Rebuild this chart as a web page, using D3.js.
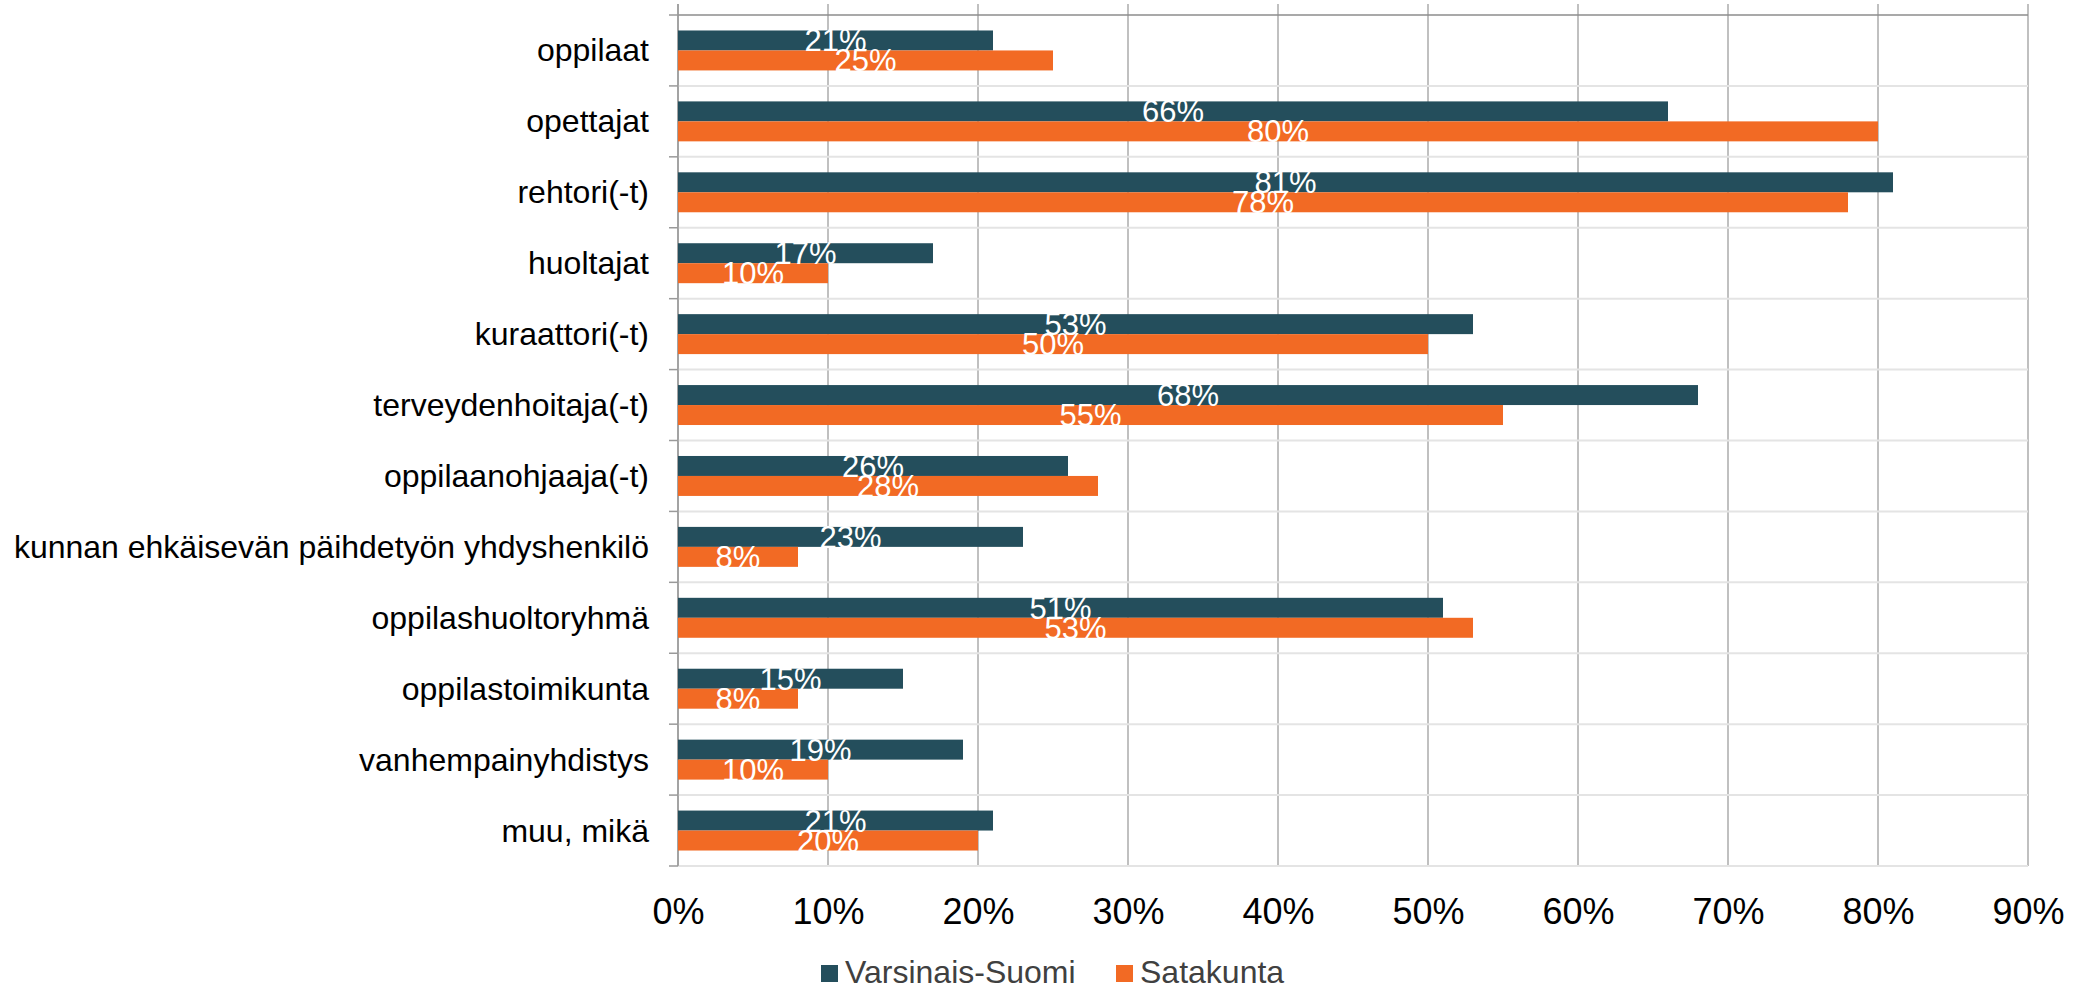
<!DOCTYPE html>
<html>
<head>
<meta charset="utf-8">
<script src="https://cdn.jsdelivr.net/npm/d3@7"></script>
<style>
  body { margin: 0; background: #fff; }
  text { font-family: "Liberation Sans", Arial, sans-serif; }
</style>
</head>
<body>
<div id="vis"></div>
<script>
// data
const categories = [
  'oppilaat', 'opettajat', 'rehtori(-t)', 'huoltajat', 'kuraattori(-t)',
  'terveydenhoitaja(-t)', 'oppilaanohjaaja(-t)', 'kunnan ehkäisevän päihdetyön yhdyshenkilö',
  'oppilashuoltoryhmä', 'oppilastoimikunta', 'vanhempainyhdistys', 'muu, mikä'
];
const seriesNames = ['Varsinais-Suomi', 'Satakunta'];
const varsinaisSuomi = [21, 66, 81, 17, 53, 68, 26, 23, 51, 15, 19, 21];
const satakunta = [25, 80, 78, 10, 50, 55, 28, 8, 53, 8, 10, 20];
const tickValues = [0, 10, 20, 30, 40, 50, 60, 70, 80, 90];
const colors = ['#244e5c', '#f26a24'];

const W = 2092, H = 989;
const margin = {top: 15, right: 64, bottom: 123, left: 678};

const svg = d3.select('#vis').append('svg')
  .attr('width', W)
  .attr('height', H);

const xScale = d3.scaleLinear().domain([0, 90]).range([margin.left, W - margin.right]);
const yScale = d3.scaleBand().domain(categories).range([margin.top, H - margin.bottom]);
const subScale = d3.scaleBand().domain(seriesNames).range([0, yScale.bandwidth()])
  .paddingInner(0).paddingOuter(0.775);

const plotTop = margin.top, plotBottom = H - margin.bottom;

// vertical gridlines (with little ticks above the top line)
svg.append('g').selectAll('line')
  .data(tickValues)
  .join('line')
  .attr('x1', d => xScale(d)).attr('x2', d => xScale(d))
  .attr('y1', plotTop - 11).attr('y2', plotBottom)
  .attr('stroke', '#ababab')
  .attr('stroke-width', 1.5);

// horizontal band lines
const bounds = categories.map(c => yScale(c)).concat([plotBottom]);
svg.append('g').selectAll('line')
  .data(bounds.slice(1))
  .join('line')
  .attr('x1', xScale(0)).attr('x2', xScale(90))
  .attr('y1', d => d).attr('y2', d => d)
  .attr('stroke', '#e4e4e4')
  .attr('stroke-width', 2);

// top line
svg.append('line')
  .attr('x1', xScale(0)).attr('x2', xScale(90))
  .attr('y1', plotTop).attr('y2', plotTop)
  .attr('stroke', '#8c8c8c')
  .attr('stroke-width', 1.5);

// left axis line + ticks at band boundaries
svg.append('line')
  .attr('x1', xScale(0)).attr('x2', xScale(0))
  .attr('y1', plotTop - 11).attr('y2', plotBottom)
  .attr('stroke', '#9a9a9a')
  .attr('stroke-width', 1.5);
svg.append('g').selectAll('line')
  .data(bounds)
  .join('line')
  .attr('x1', xScale(0) - 9).attr('x2', xScale(0))
  .attr('y1', d => d).attr('y2', d => d)
  .attr('stroke', '#9a9a9a')
  .attr('stroke-width', 1.5);

// bars
const rows = categories.map((c, i) => ({cat: c, values: [varsinaisSuomi[i], satakunta[i]]}));

const groups = svg.append('g').selectAll('g')
  .data(rows)
  .join('g')
  .attr('transform', d => `translate(0,${yScale(d.cat)})`);

groups.selectAll('rect')
  .data(d => d.values.map((v, j) => ({name: seriesNames[j], v: v, j: j})))
  .join('rect')
  .attr('x', xScale(0))
  .attr('y', d => subScale(d.name))
  .attr('width', d => xScale(d.v) - xScale(0))
  .attr('height', subScale.bandwidth())
  .attr('fill', d => colors[d.j]);

// value labels, white and centred; the parts outside the bars vanish on white like in the original
groups.selectAll('text')
  .data(d => d.values.map((v, j) => ({name: seriesNames[j], v: v, j: j})))
  .join('text')
  .attr('x', d => (xScale(d.v) + xScale(0)) / 2)
  .attr('y', d => subScale(d.name) + subScale.bandwidth() / 2 + 11)
  .attr('text-anchor', 'middle')
  .attr('fill', '#fff')
  .style('font-size', '31px')
  .text(d => d.v + '%');

// category labels
svg.append('g').selectAll('text')
  .data(categories)
  .join('text')
  .attr('x', xScale(0) - 29)
  .attr('y', d => yScale(d) + yScale.bandwidth() / 2 + 11)
  .attr('text-anchor', 'end')
  .attr('fill', '#000')
  .style('font-size', '32px')
  .text(d => d);

// x axis labels
const xAxis = d3.axisBottom(xScale)
  .tickValues(tickValues)
  .tickSize(0)
  .tickPadding(32)
  .tickFormat(d => d + '%');

const gx = svg.append('g')
  .attr('transform', `translate(0,${plotBottom})`)
  .call(xAxis);
gx.select('.domain').remove();
gx.selectAll('text')
  .style('font-size', '36px')
  .style('font-family', '"Liberation Sans", Arial, sans-serif')
  .attr('fill', '#000');

// legend
const legendX = [821, 1116];
const legend = svg.append('g').selectAll('g')
  .data(seriesNames)
  .join('g')
  .attr('transform', (d, i) => `translate(${legendX[i]},965)`);
legend.append('rect')
  .attr('width', 17).attr('height', 17)
  .attr('fill', (d, i) => colors[i]);
legend.append('text')
  .attr('x', 24)
  .attr('y', 18)
  .attr('fill', '#404040')
  .style('font-size', '32px')
  .text(d => d);
</script>
</body>
</html>
